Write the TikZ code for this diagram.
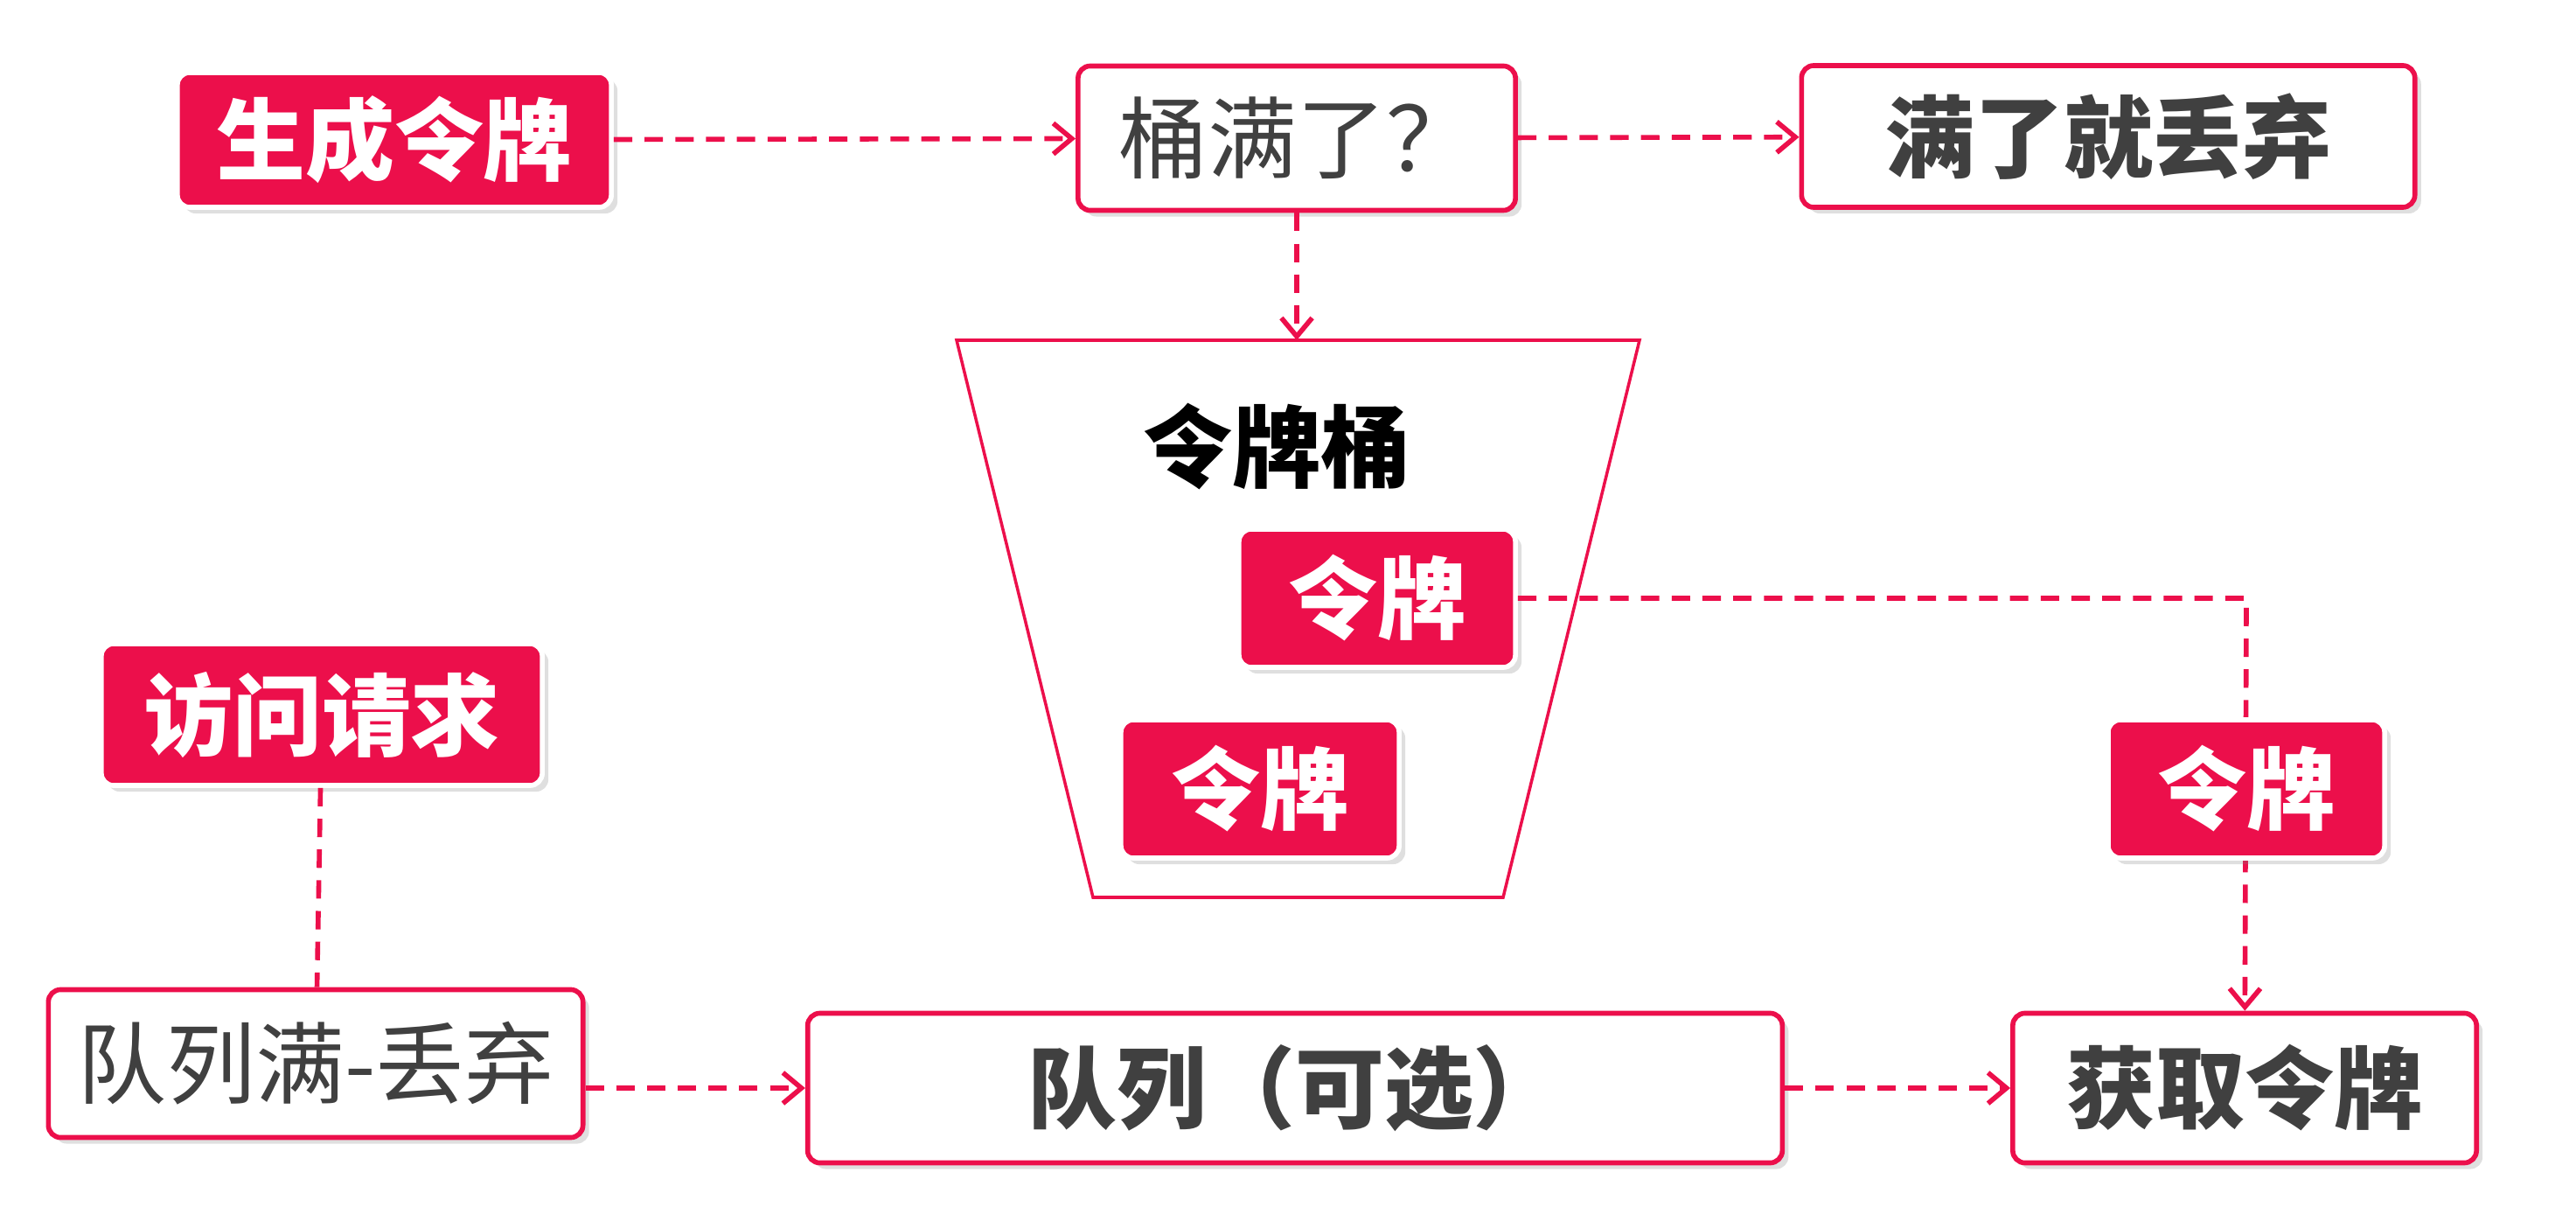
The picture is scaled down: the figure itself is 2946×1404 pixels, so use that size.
\documentclass[tikz,border=0pt]{standalone}
\usepackage{fontspec}
\setmainfont{Noto Sans CJK SC}
\usetikzlibrary{shadows,arrows.meta}
\definecolor{tokred}{HTML}{EC0F4B}
\definecolor{tokgray}{HTML}{404040}
\tikzset{
	box/.style = {draw = tokred, line width = 1.6pt, rounded corners = 4pt, inner sep = 0pt,
		drop shadow = {opacity = 0.25, shadow xshift = 2pt, shadow yshift = -2pt},
		font = \fontsize{29}{33}\selectfont\bfseries},
	redbox/.style = {box, fill = tokred, text = white, draw = white},
	whitebox/.style = {box, fill = white, text = tokgray},
	flow/.style = {draw = tokred, line width = 1.6pt, dashed, dash pattern = on 6pt off 4pt},
	arrow/.style = {flow, -{Straight Barb[length = 6pt, width = 10pt, line width = 1.6pt]}}
}
\begin{document}
\begin{tikzpicture}[x = 0.01cm, y = -0.01cm]

	\useasboundingbox (0, 0) rectangle (2946, 1404);

	% Bucket

	\draw [tokred, line width = 1pt] (1094, 389) -- (1875, 389) -- (1719, 1026) -- (1250, 1026) -- cycle;
	\node [font = \fontsize{29}{33}\selectfont\bfseries] (bucket) at (1460, 511) {令牌桶};

	% Boxes

	\node [redbox, minimum width = 4.96cm, minimum height = 1.54cm] (gen) at (451, 160) {生成令牌};
	\node [whitebox, minimum width = 5cm, minimum height = 1.65cm, font = \fontsize{29}{33}\selectfont] (full) at (1483, 158) {桶满了？};
	\node [whitebox, minimum width = 7.01cm, minimum height = 1.62cm] (drop) at (2411, 156) {满了就丢弃};
	\node [redbox, minimum width = 3.16cm, minimum height = 1.58cm] (tokA) at (1575, 684) {令牌};
	\node [redbox, minimum width = 3.18cm, minimum height = 1.58cm] (tokB) at (1441, 902) {令牌};
	\node [redbox, minimum width = 5.04cm, minimum height = 1.62cm] (req) at (368, 817) {访问请求};
	\node [whitebox, minimum width = 6.11cm, minimum height = 1.69cm, font = \fontsize{29}{33}\selectfont] (qfull) at (361, 1216) {队列满-丢弃};
	\node [whitebox, minimum width = 11.14cm, minimum height = 1.71cm] (queue) at (1481, 1244) {队列（可选）};
	\node [whitebox, minimum width = 5.3cm, minimum height = 1.71cm] (get) at (2567, 1244) {获取令牌};
	\coordinate (bend) at (2569, 684);
	\coordinate (top) at (1483, 389);

	% Connectors

	\draw [arrow] (gen) -- (full);
	\draw [arrow] (full) -- (drop);
	\draw [arrow] (full) -- (top);
	\draw [arrow] (tokA) -- (bend) -- (get);
	\draw [flow] (req) -- (qfull);
	\draw [arrow] (qfull.east |- queue) -- (queue);
	\draw [arrow] (queue) -- (get);

	% Moving token

	\node [redbox, minimum width = 3.16cm, minimum height = 1.58cm] (tokC) at (2569, 902) {令牌};

\end{tikzpicture}
\end{document}
